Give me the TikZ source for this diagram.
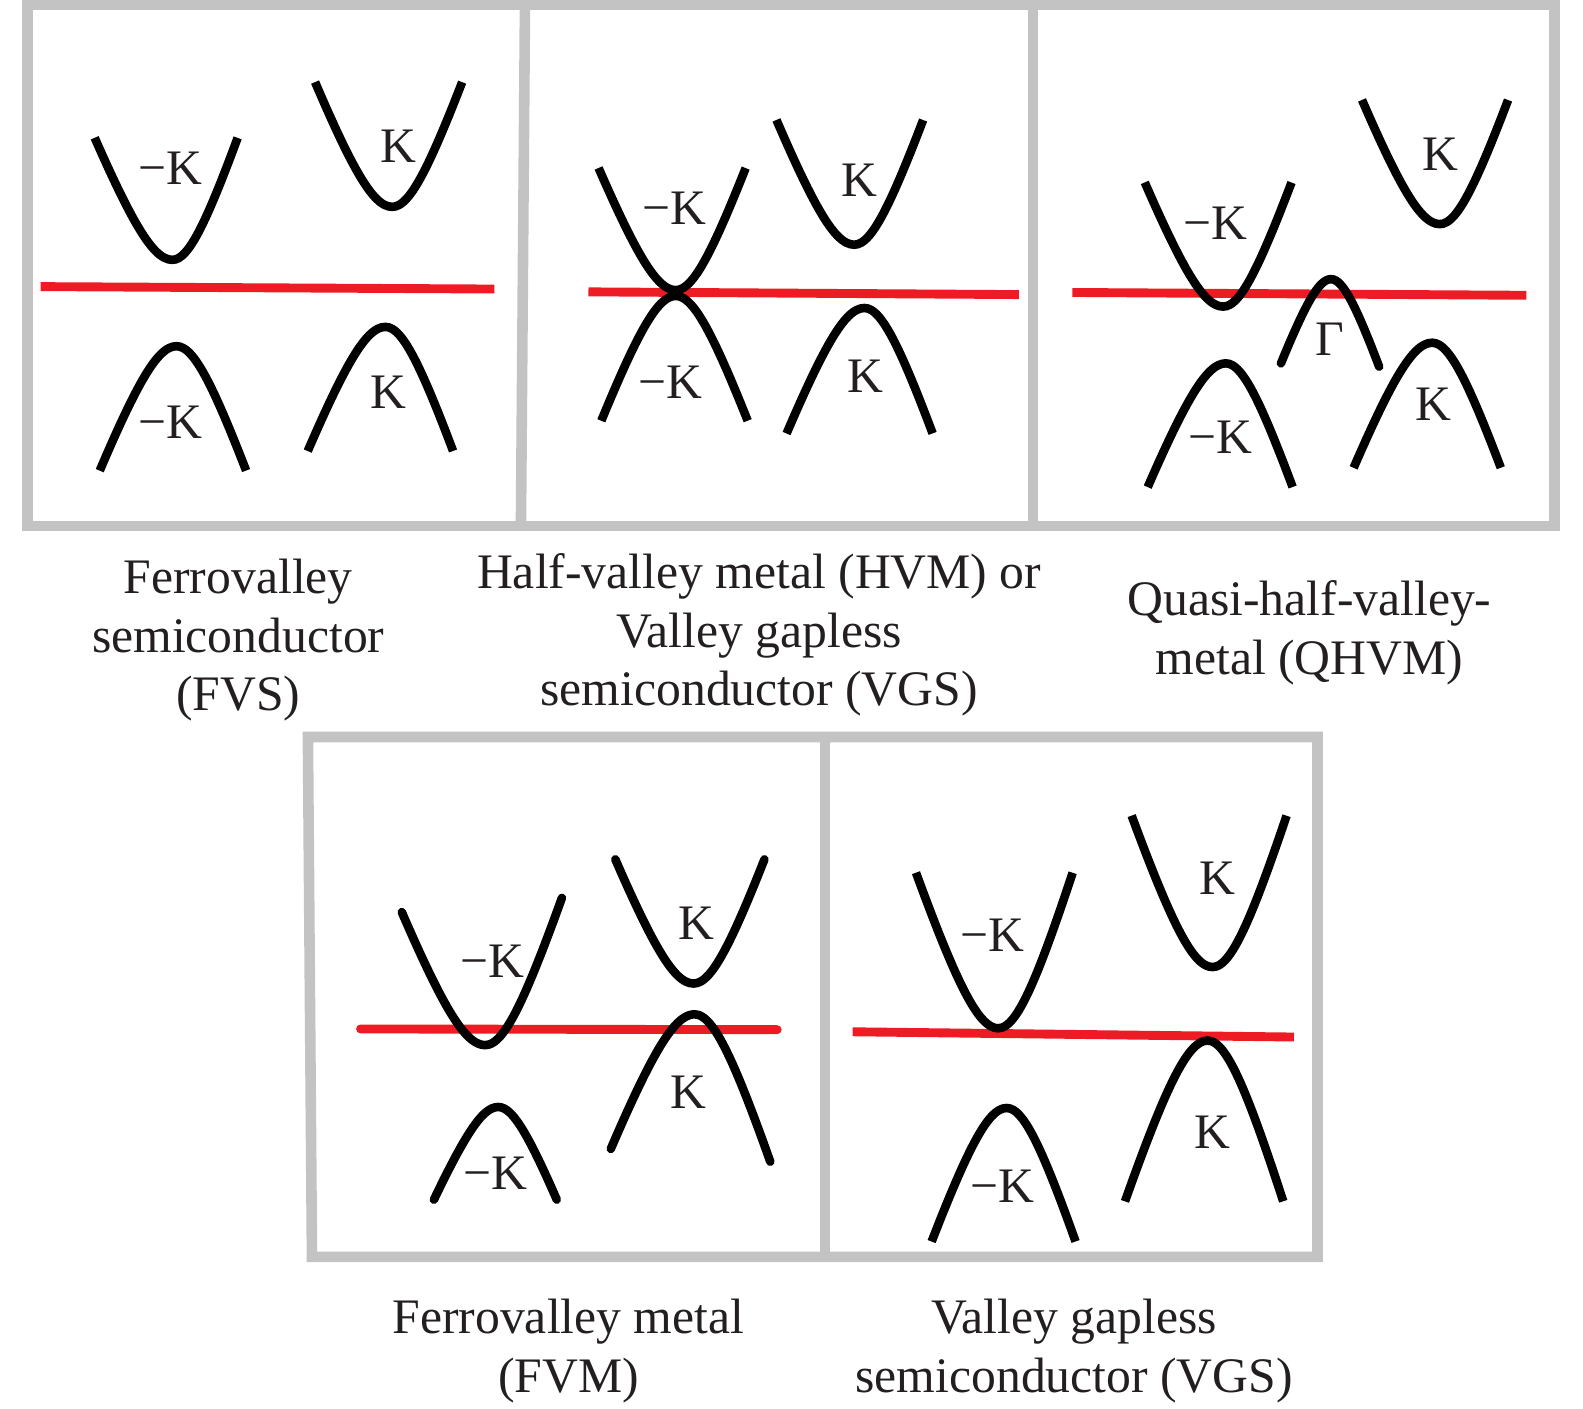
\documentclass[tikz,border=0pt]{standalone}
\usepackage{fontspec}
\setmainfont{Liberation Serif}

\definecolor{fermired}{RGB}{237,28,36}
\definecolor{framegray}{RGB}{195,195,195}
\definecolor{inkblack}{RGB}{35,31,32}

\begin{document}
\begin{tikzpicture}[
    x=0.2mm, y=-0.2mm,
    % Frame and line styles
    frame/.style={draw=framegray, line width=2.1mm},
    fermi/.style={draw=fermired, line width=1.76mm},
    band/.style={draw=black, line width=1.7mm},
    rband/.style={band, line cap=round},
    % Text styles
    klabel/.style={font=\fontsize{28}{33}\selectfont, text=inkblack, inner sep=0pt, anchor=base},
    captext/.style={klabel, align=center}
]
\useasboundingbox (0,0) rectangle (1568,1395);

% Panel frames
\draw[frame] (27.5,5) rectangle (1540,521);
\draw[frame] (520,5) -- (516,521);
\draw[frame] (1023,5) -- (1023,521);
\draw[frame] (305,730) -- (1305,730) -- (1305,1245) -- (309,1245) -- cycle;
\draw[frame] (817,730) -- (817,1245);

% Fermi levels
\draw[fermi] (40.2,283.9) -- (489.6,286.3);
\draw[fermi] (582.9,289.1) -- (1009.2,291.8);
\draw[fermi] (1062.2,289.7) -- (1511.9,292.5);
\draw[fermi, line cap=round] (357.1,1019.2) -- (769.8,1019.9);
\draw[fermi] (844.6,1022) -- (1281.7,1027.2);

% Bands: left end / vertex / right end
\foreach \xl/\yl/\xv/\yv/\xr/\yr in {
    93.8/136.5/170.8/257.4/235.4/136.5, 312.1/81.3/388.5/204.9/457.8/81.3,
    98.8/466.2/174.8/342.9/243.8/466.2, 304.8/446.8/381.8/323.8/448.8/446.8,
    592.9/166.4/669.3/287.4/738.6/166.4, 595.6/416.8/669.3/293.1/740.6/416.8,
    769.1/118.8/846.1/242.4/914.4/118.8, 779.1/429.4/856.2/305.1/923.8/429.4,
    1133.9/180.7/1211.6/303.7/1279.3/180.7, 1349.1/99/1426.2/222/1493.8/99,
    1136.8/482.5/1214.2/359.9/1280.4/482.5, 1340.8/463.4/1418.6/339.5/1486.6/463.4,
    907.3/864.4/988.8/1018.5/1062.5/864.4, 1120.9/807.9/1201.1/957.9/1274.4/807.9,
    922.8/1229.8/997.1/1097.5/1065.4/1229.8, 1114.3/1190/1196.2/1030.7/1271.1/1190}
  \draw[band] plot[domain=-1:1, samples=41, smooth]
    ({\xv+(\x<0 ? \xv-\xl : \xr-\xv)*\x}, {\yv+(\x<0 ? \yl-\yv : \yr-\yv)*(sqrt(1+4*\x*\x)-1)/1.2361});

% Rounded bands (Gamma pocket and ferrovalley metal)
\foreach \xl/\yl/\xv/\yv/\xr/\yr in {
    1268.8/359.9/1318.4/276.5/1366.1/363.3,
    398/903.5/480.6/1035.2/556.6/889.3, 609.5/851.2/687/974.2/757.2/851.2,
    429.8/1188.3/493.5/1096.5/551.5/1188.3, 605/1138/688/1004.7/763/1150.8}
  \draw[rband] plot[domain=-1:1, samples=41, smooth]
    ({\xv+(\x<0 ? \xv-\xl : \xr-\xv)*\x}, {\yv+(\x<0 ? \yl-\yv : \yr-\yv)*(sqrt(1+4*\x*\x)-1)/1.2361});

% Valley labels
\node[klabel] (fvs_cb_mk) at (168.8,182.5) {−K};
\node[klabel] (fvs_cb_k) at (394.5,161.3) {K};
\node[klabel] (fvs_vb_mk) at (168.8,434.8) {−K};
\node[klabel] (fvs_vb_k) at (384.5,404.2) {K};

\node[klabel] (hvm_cb_mk) at (668,222.6) {−K};
\node[klabel] (hvm_cb_k) at (851.1,194.4) {K};
\node[klabel] (hvm_vb_mk) at (664.3,394.6) {−K};
\node[klabel] (hvm_vb_k) at (856.8,388.5) {K};

\node[klabel] (qhvm_cb_mk) at (1203.7,237.3) {−K};
\node[klabel] (qhvm_cb_k) at (1427,169.2) {K};
\node[klabel] (qhvm_gamma) at (1317,352.1) {Γ};
\node[klabel] (qhvm_vb_mk) at (1208.8,449.1) {−K};
\node[klabel] (qhvm_vb_k) at (1420,416.8) {K};

\node[klabel] (fvm_cb_mk) at (487.7,968.3) {−K};
\node[klabel] (fvm_cb_k) at (690,930.2) {K};
\node[klabel] (fvm_vb_k) at (681.5,1097.5) {K};
\node[klabel] (fvm_vb_mk) at (490.5,1177.9) {−K};

\node[klabel] (vgs_cb_mk) at (982.6,942.3) {−K};
\node[klabel] (vgs_cb_k) at (1205.7,886.2) {K};
\node[klabel] (vgs_vb_k) at (1200.5,1138) {K};
\node[klabel] (vgs_vb_mk) at (993.1,1191) {−K};

% Captions
\node[captext] (fvs_title) at (236,704) {Ferrovalley\\semiconductor\\(FVS)};
\node[captext] (hvm_title) at (752,699) {Half-valley metal (HVM) or\\Valley gapless\\semiconductor (VGS)};
\node[captext] (qhvm_title) at (1297,668) {Quasi-half-valley-\\metal (QHVM)};
\node[captext] (fvm_title) at (563,1379) {Ferrovalley metal\\(FVM)};
\node[captext] (vgs_title) at (1064,1379) {Valley gapless\\semiconductor (VGS)};

\end{tikzpicture}
\end{document}
